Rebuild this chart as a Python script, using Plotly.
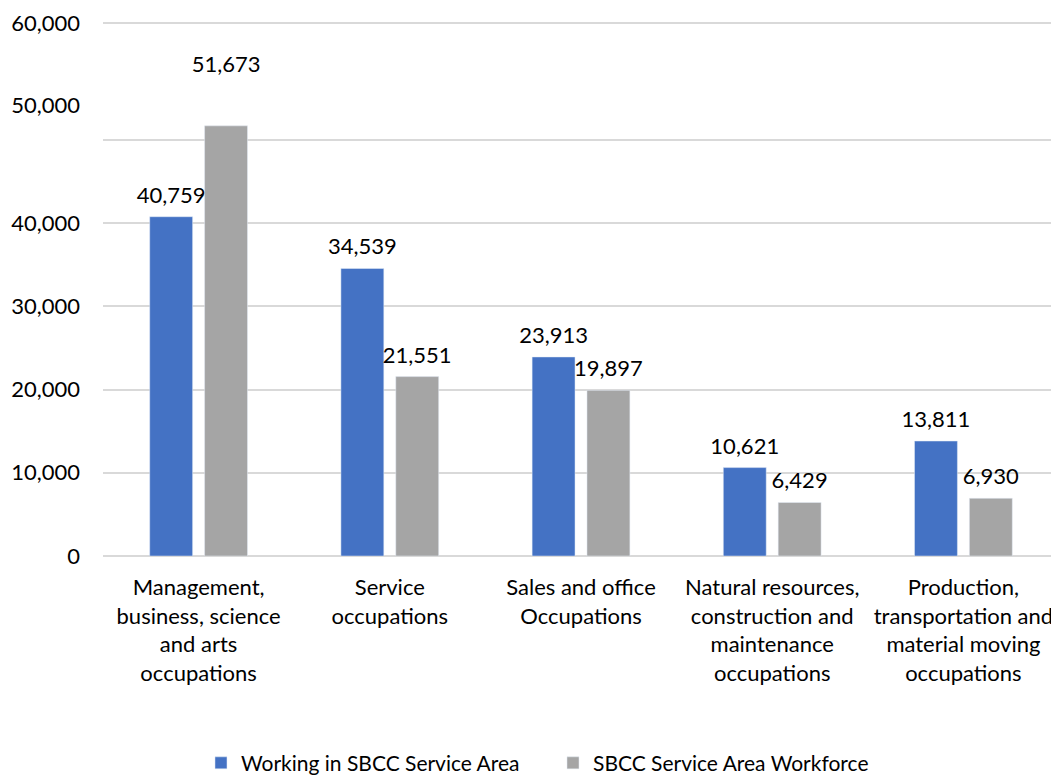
import plotly.graph_objects as go

categories = [
    "Management,<br>business, science<br>and arts<br>occupations",
    "Service<br>occupations",
    "Sales and office<br>Occupations",
    "Natural resources,<br>construction and<br>maintenance<br>occupations",
    "Production,<br>transportation and<br>material moving<br>occupations",
]
working_in_area = [40759, 34539, 23913, 10621, 13811]
area_workforce = [51673, 21551, 19897, 6429, 6930]

# axis as drawn in the source: gridlines vs. where the labels sit
grid_vals = [0, 10000, 20000, 30000, 40000, 50000, 64000]
label_vals = [0, 10000, 20000, 30000, 40000, 54200, 64000]
label_text = ["0", "10,000", "20,000", "30,000", "40,000", "50,000", "60,000"]

font = "Lato, 'Open Sans', sans-serif"
blue = "#4472C4"
grey = "#A5A5A5"

fig = go.Figure()
fig.add_trace(
    go.Bar(
        x=categories,
        y=working_in_area,
        name="Working in SBCC Service Area",
        marker=dict(color=blue),
        offsetgroup="a",
        hoverinfo="y",
    )
)
fig.add_trace(
    go.Bar(
        x=categories,
        y=area_workforce,
        name="SBCC Service Area Workforce",
        marker=dict(color=grey),
        offsetgroup="b",
        hoverinfo="y",
    )
)

# data labels, pushed up by an invisible marker
label_pad = [12] * len(area_workforce)
wf_pad = list(label_pad)
wf_pad[0] = 76  # the 51,673 label floats higher in the source
for vals, group, pad in [(working_in_area, "a", label_pad), (area_workforce, "b", wf_pad)]:
    fig.add_trace(
        go.Scatter(
            x=categories,
            y=vals,
            mode="markers+text",
            text=[f"{v:,}" for v in vals],
            textposition="top center",
            textfont=dict(size=22, color="black", family=font),
            marker=dict(size=pad, opacity=0),
            offsetgroup=group,
            showlegend=False,
            hoverinfo="skip",
            cliponaxis=False,
        )
    )

# carrier for the label axis
fig.add_trace(go.Scatter(x=[], y=[], yaxis="y2", showlegend=False, hoverinfo="skip"))

# page body has an 8px margin, so the figure is 8px smaller than the window
fig.update_layout(
    width=1051,
    height=771,
    margin=dict(l=95, r=0, t=14, b=223, autoexpand=False),
    paper_bgcolor="white",
    plot_bgcolor="white",
    font=dict(family=font, size=22, color="black"),
    barmode="group",
    scattermode="group",
    bargap=0.426,
    bargroupgap=0.218,
    showlegend=True,
    legend=dict(
        orientation="h",
        x=0.1025,
        xanchor="left",
        y=-0.388,
        yanchor="middle",
        font=dict(size=21),
        itemwidth=30,
        entrywidth=307,
        entrywidthmode="pixels",
        traceorder="normal",
    ),
    xaxis=dict(
        showgrid=False,
        showline=False,
        ticks="",
        tickfont=dict(size=22),
        automargin=False,
        ticklabelstandoff=16,
    ),
    yaxis=dict(
        range=[0, 64150],
        tickvals=grid_vals,
        showticklabels=False,
        showgrid=True,
        gridcolor="#D9D9D9",
        gridwidth=1.5,
        zeroline=True,
        zerolinecolor="#D9D9D9",
        zerolinewidth=1.5,
        showline=False,
        automargin=False,
    ),
    yaxis2=dict(
        range=[0, 64150],
        overlaying="y",
        side="left",
        tickvals=label_vals,
        ticktext=label_text,
        showgrid=False,
        zeroline=False,
        showline=False,
        ticks="",
        ticklabelstandoff=22,
        tickfont=dict(size=22),
        automargin=False,
    ),
)

fig.write_html("out.html")
